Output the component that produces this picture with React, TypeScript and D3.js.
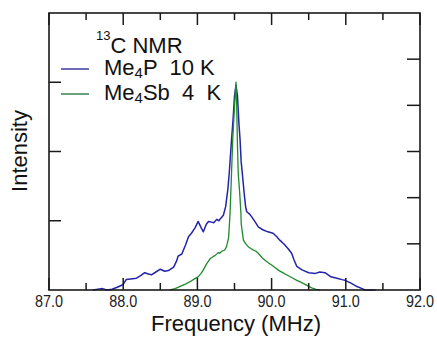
import * as d3 from 'd3';

// values (frequency in MHz, intensity in arbitrary units)
const me4pFreq = [87.59, 87.66, 87.72, 87.78, 87.85, 87.92, 88.0, 88.04, 88.1, 88.18, 88.24, 88.29, 88.34, 88.38, 88.44, 88.5, 88.56, 88.61, 88.68, 88.72, 88.74, 88.79, 88.84, 88.88, 88.92, 88.97, 89.01, 89.05, 89.08, 89.12, 89.15, 89.19, 89.22, 89.26, 89.29, 89.31, 89.35, 89.38, 89.41, 89.43, 89.46, 89.48, 89.5, 89.52, 89.54, 89.56, 89.575, 89.59, 89.605, 89.63, 89.65, 89.665, 89.7, 89.73, 89.78, 89.82, 89.88, 89.95, 90.02, 90.07, 90.11, 90.17, 90.22, 90.27, 90.3, 90.34, 90.41, 90.5, 90.59, 90.65, 90.72, 90.8, 90.88, 90.95, 90.99, 91.07, 91.15, 91.22, 91.26, 91.4];
const me4pInt = [0.0, 0.01, 0.02, 0.0, 0.01, 0.04, 0.08, 0.15, 0.16, 0.17, 0.21, 0.25, 0.23, 0.22, 0.26, 0.3, 0.27, 0.28, 0.33, 0.42, 0.49, 0.52, 0.65, 0.77, 0.82, 0.9, 0.99, 0.9, 0.84, 0.95, 0.99, 0.98, 0.97, 1.02, 1.0, 1.03, 1.08, 1.2, 1.45, 1.7, 2.17, 2.45, 2.8, 2.96, 2.8, 2.4, 2.17, 1.85, 1.69, 1.4, 1.2, 1.13, 1.1, 1.06, 0.98, 0.91, 0.87, 0.84, 0.82, 0.77, 0.72, 0.66, 0.6, 0.53, 0.44, 0.34, 0.29, 0.25, 0.24, 0.26, 0.25, 0.19, 0.17, 0.15, 0.14, 0.1, 0.05, 0.02, 0.0, 0.0];

const me4sbFreq = [88.63, 88.7, 88.76, 88.83, 88.9, 88.96, 89.01, 89.05, 89.08, 89.12, 89.17, 89.21, 89.24, 89.28, 89.3, 89.33, 89.37, 89.39, 89.42, 89.44, 89.46, 89.476, 89.5, 89.52, 89.53, 89.538, 89.55, 89.57, 89.587, 89.59, 89.62, 89.65, 89.69, 89.72, 89.75, 89.79, 89.82, 89.87, 89.91, 89.96, 90.0, 90.05, 90.1, 90.15, 90.2, 90.27, 90.34, 90.4, 90.47, 90.54, 90.6, 90.65];
const me4sbInt = [0.0, 0.02, 0.05, 0.08, 0.12, 0.16, 0.19, 0.24, 0.29, 0.37, 0.45, 0.48, 0.5, 0.54, 0.53, 0.56, 0.58, 0.62, 0.75, 1.1, 1.69, 2.17, 2.65, 3.0, 2.65, 2.17, 1.69, 1.4, 1.1, 0.96, 0.72, 0.67, 0.62, 0.6, 0.58, 0.56, 0.53, 0.47, 0.43, 0.39, 0.36, 0.32, 0.28, 0.25, 0.22, 0.18, 0.14, 0.11, 0.07, 0.03, 0.01, 0.0];

const xTickLabels = ['87.0', '88.0', '89.0', '90.0', '91.0', '92.0'];
const xMinorTicks = [87.5, 88.5, 89.5, 90.5, 91.5];
const yLeftTicks = [1, 2, 3];
const yRightTicks = [4 / 6, 8 / 6, 2, 16 / 6, 20 / 6];

const W = 437;
const H = 339;
const font = 'Helvetica, Arial, "Liberation Sans", sans-serif';

export default function App() {
  const x = d3.scaleLinear().domain([87, 92]).range([49, 420]);
  const y = d3.scaleLinear().domain([0, 4]).range([290, 13]);

  const line = d3
    .line<[number, number]>()
    .x((d) => x(d[0]))
    .y((d) => y(d[1]));

  const blue = me4pFreq.map((f, i) => [f, me4pInt[i]] as [number, number]);
  const green = me4sbFreq.map((f, i) => [f, me4sbInt[i]] as [number, number]);

  const [x0, x1] = x.range();
  const [yb, yt] = y.range();
  const axisColor = '#1a1a1a';

  return (
    <svg width={W} height={H} style={{ position: 'absolute', left: 0, top: 0, display: 'block' }}>
      <rect width={W} height={H} fill="#fff" />
      <path d={line(blue) ?? ''} fill="none" stroke="#2424aa" strokeWidth={1.5} strokeLinejoin="round" />
      <path d={line(green) ?? ''} fill="none" stroke="#1f8a2c" strokeWidth={1.3} strokeLinejoin="round" />

      {/* frame */}
      <rect x={x0} y={yt} width={x1 - x0} height={yb - yt} fill="none" stroke={axisColor} strokeWidth={1.6} />

      {/* x ticks, top and bottom */}
      {xTickLabels.map((t) => {
        const px = x(+t);
        return (
          <g key={t}>
            <line x1={px} x2={px} y1={yb} y2={yb - 12} stroke={axisColor} strokeWidth={1.5} />
            <line x1={px} x2={px} y1={yt} y2={yt + 12} stroke={axisColor} strokeWidth={1.5} />
            <text
              x={px}
              y={307}
              textAnchor="middle"
              fontSize={16}
              fontFamily={font}
              fill="#222"
              textLength={28}
              lengthAdjust="spacingAndGlyphs"
            >
              {t}
            </text>
          </g>
        );
      })}
      {xMinorTicks.map((t) => (
        <g key={t}>
          <line x1={x(t)} x2={x(t)} y1={yb} y2={yb - 7} stroke={axisColor} strokeWidth={1.5} />
          <line x1={x(t)} x2={x(t)} y1={yt} y2={yt + 7} stroke={axisColor} strokeWidth={1.5} />
        </g>
      ))}

      {/* y ticks */}
      {yLeftTicks.map((t) => (
        <line key={t} x1={x0} x2={x0 + 12} y1={y(t)} y2={y(t)} stroke={axisColor} strokeWidth={1.5} />
      ))}
      {yRightTicks.map((t) => (
        <line key={t} x1={x1} x2={x1 - 13} y1={y(t)} y2={y(t)} stroke={axisColor} strokeWidth={1.5} />
      ))}

      {/* axis titles */}
      <text x={236} y={331} textAnchor="middle" fontSize={22} fontFamily={font} fill="#111">
        Frequency (MHz)
      </text>
      <text
        transform="translate(27,151) rotate(-90)"
        textAnchor="middle"
        fontSize={22}
        fontFamily={font}
        fill="#111"
      >
        Intensity
      </text>

      {/* legend */}
      <text x={96} y={53} fontSize={22} fontFamily={font} fill="#111">
        <tspan fontSize={13} dy={-13}>13</tspan>
        <tspan dy={13}>C NMR</tspan>
      </text>
      <line x1={61} x2={89} y1={69} y2={69} stroke="#3a3aa0" strokeWidth={1.5} />
      <text x={104} y={75} fontSize={22} fontFamily={font} fill="#111" style={{ whiteSpace: 'pre' }}>
        Me<tspan fontSize={15} dy={3}>4</tspan>
        <tspan dy={-3}>{'P  10 K'}</tspan>
      </text>
      <line x1={61} x2={89} y1={94} y2={94} stroke="#3a8050" strokeWidth={1.5} />
      <text x={104} y={100} fontSize={22} fontFamily={font} fill="#111" style={{ whiteSpace: 'pre' }}>
        Me<tspan fontSize={15} dy={3}>4</tspan>
        <tspan dy={-3}>{'Sb  4  K'}</tspan>
      </text>
    </svg>
  );
}
